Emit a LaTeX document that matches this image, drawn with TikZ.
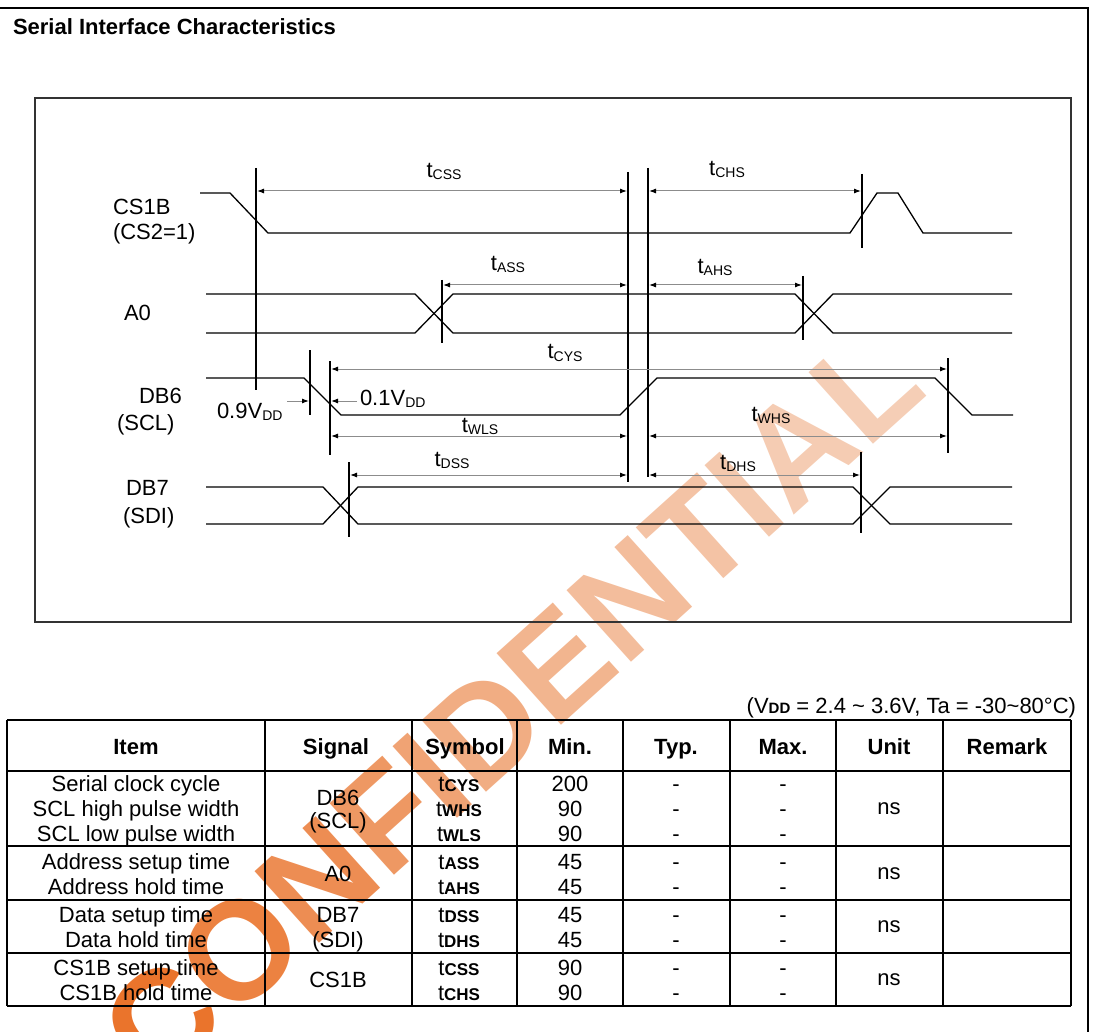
\documentclass[tikz,border=0pt]{standalone}
\usepackage{fontspec}
\setmainfont{Liberation Sans}
\usetikzlibrary{arrows.meta}
\newcommand\sz[1]{\fontsize{#1}{#1}\selectfont}
\newcommand\tlab[1]{t\raisebox{-2pt}{\sz{14}#1}}
\newcommand\vddsub{V\raisebox{-2pt}{\sz{14}DD}}
\newcommand\tsym[1]{t{\bfseries\sz{17}#1}}
\newcommand\cell[4]{\node[anchor=base] (#1) at (#2,#3) {#4};}
\definecolor{wmA}{RGB}{234,116,44}
\definecolor{wmB}{RGB}{245,206,182}
\begin{document}
\begin{tikzpicture}[x=1pt,y=-1pt,
  every node/.style={inner sep=0pt,outer sep=0pt,font=\sz{22}},
  sig/.style={line width=1.3pt,line join=miter},
  vline/.style={line width=1.6pt},
  dimline/.style={draw=black!45,line width=1pt},
  tip/.tip={Latex[length=7pt,width=5pt,color=black]},
  both/.style={dimline,{tip}-{tip}},
  toright/.style={dimline,-{tip}},
  tbl/.style={line width=1.8pt,line cap=square},
]
\useasboundingbox (0,0) rectangle (1095,1032);
% watermark
\foreach \ch/\e [count=\i from 0] in {C/0,O/0.722,N/1.5,F/2.222,I/2.833,D/3.111,E/3.833,N/4.5,T/5.222,I/5.833,A/6.111,L/6.833}{
  \pgfmathtruncatemacro\p{100*(1-\i/11)^1.6}
  \node[rotate=42,anchor=base west,font=\bfseries\sz{140},text=wmA!\p!wmB] (wm\i) at ({156+0.743*140*\e},{1090-0.669*140*\e}) {\ch};
}
% frame
\draw[line width=1.8pt] (0,8) -- (1088,8) -- (1088,1032);
\node[anchor=base west,font=\bfseries\sz{22}] (title) at (13,35) {Serial Interface Characteristics};
\draw[line width=2pt,draw=black!80] (35,98) rectangle (1071,622);
% labels
\node[anchor=base west] (cs1b) at (113,215) {CS1B};
\node[anchor=base west] (cs2) at (113,240) {(CS2=1)};
\node[anchor=base west] (a0) at (124,321) {A0};
\node[anchor=base west] (db6) at (139,403) {DB6};
\node[anchor=base west] (scl) at (117,430) {(SCL)};
\node[anchor=base west] (db7) at (126,495) {DB7};
\node[anchor=base west] (sdi) at (123,523) {(SDI)};
% signals
\draw[sig] (200,193) -- (230,193) -- (268,233) -- (850,233) -- (877,193) -- (898,193) -- (923,233) -- (1012,233);
\draw[sig] (206,294) -- (415,294) -- (453,333) -- (795,333) -- (833,294) -- (1012,294);
\draw[sig] (206,333) -- (415,333) -- (453,294) -- (795,294) -- (833,333) -- (1012,333);
\draw[sig] (206,378) -- (304,378) -- (341,415) -- (620,415) -- (657,378) -- (935,378) -- (972,415) -- (1013,415);
\draw[sig] (206,487) -- (323,487) -- (358,524) -- (853,524) -- (890,487) -- (1012,487);
\draw[sig] (206,524) -- (323,524) -- (358,487) -- (853,487) -- (890,524) -- (1012,524);
% vertical markers
\coordinate (v1t) at (256,168); \coordinate (v1b) at (256,390);
\coordinate (v2t) at (628,172); \coordinate (v2b) at (628,482);
\coordinate (v3t) at (648,168); \coordinate (v3b) at (648,477);
\coordinate (v4t) at (862,174); \coordinate (v4b) at (862,248);
\coordinate (v5t) at (442,280); \coordinate (v5b) at (442,343);
\coordinate (v6t) at (803,276); \coordinate (v6b) at (803,340);
\coordinate (v7t) at (310,350); \coordinate (v7b) at (310,415);
\coordinate (v8t) at (330,361); \coordinate (v8b) at (330,455);
\coordinate (v9t) at (948,358); \coordinate (v9b) at (948,453);
\coordinate (v10t) at (349,462); \coordinate (v10b) at (349,537);
\coordinate (v11t) at (861,452); \coordinate (v11b) at (861,533);
\foreach \v in {1,...,11} \draw[vline] (v\v t) -- (v\v b);
% dimension arrows
\draw[both] (257,191) -- (627,191);
\draw[both] (649,191) -- (861,191);
\draw[both] (443,285) -- (627,285);
\draw[both] (649,285) -- (802,285);
\draw[both] (331,369) -- (947,369);
\draw[toright] (287,401) -- (309,401);
\draw[toright] (357,401) -- (331,401);
\draw[both] (331,436) -- (627,436);
\draw[both] (649,436) -- (947,436);
\draw[both] (350,475) -- (627,475);
\draw[both] (649,475) -- (860,475);
% dimension labels
\node[anchor=base] (lcss) at (444,178) {\tlab{CSS}};
\node[anchor=base] (lchs) at (727,176) {\tlab{CHS}};
\node[anchor=base] (lass) at (508,271) {\tlab{ASS}};
\node[anchor=base] (lahs) at (715,274) {\tlab{AHS}};
\node[anchor=base] (lcys) at (565,359) {\tlab{CYS}};
\node[anchor=base] (lwls) at (480,432) {\tlab{WLS}};
\node[anchor=base] (lwhs) at (771,421) {\tlab{WHS}};
\node[anchor=base] (ldss) at (452,466) {\tlab{DSS}};
\node[anchor=base] (ldhs) at (738,469) {\tlab{DHS}};
\node[anchor=base west] (l09) at (217,418) {0.9\vddsub};
\node[anchor=base west] (l01) at (360,405) {0.1\vddsub};
% table
\node[anchor=base east] (note) at (1076,713) {(V{\bfseries\sz{15}DD} = 2.4 \textasciitilde{} 3.6V, Ta = -30\textasciitilde80°C)};
\foreach \y in {720,771,846,900,953,1006} \draw[tbl] (7,\y) -- (1071,\y);
\foreach \x in {7,265,412,517,623,730,836,943,1071} \draw[tbl] (\x,720) -- (\x,1006);
\foreach \t/\x [count=\i] in {Item/136,Signal/336,Symbol/465,Min./570,Typ./676,Max./783,Unit/889,Remark/1007}
  \node[anchor=base,font=\bfseries\sz{22}] (h\i) at (\x,754) {\t};
% group 1
\cell{i1}{136}{791}{Serial clock cycle}
\cell{i2}{136}{816}{SCL high pulse width}
\cell{i3}{136}{841}{SCL low pulse width}
\cell{s1a}{338}{805}{DB6}
\cell{s1b}{338}{828}{(SCL)}
\cell{y1}{459}{791}{\tsym{CYS}}
\cell{y2}{459}{816}{\tsym{WHS}}
\cell{y3}{459}{841}{\tsym{WLS}}
\cell{m1}{570}{791}{200}
\cell{m2}{570}{816}{90}
\cell{m3}{570}{841}{90}
\cell{u1}{889}{814}{ns}
% group 2
\cell{i4}{136}{869}{Address setup time}
\cell{i5}{136}{894}{Address hold time}
\cell{s2}{338}{881}{A0}
\cell{y4}{459}{869}{\tsym{ASS}}
\cell{y5}{459}{894}{\tsym{AHS}}
\cell{m4}{570}{869}{45}
\cell{m5}{570}{894}{45}
\cell{u2}{889}{879}{ns}
% group 3
\cell{i6}{136}{922}{Data setup time}
\cell{i7}{136}{947}{Data hold time}
\cell{s3a}{338}{922}{DB7}
\cell{s3b}{338}{947}{(SDI)}
\cell{y6}{459}{922}{\tsym{DSS}}
\cell{y7}{459}{947}{\tsym{DHS}}
\cell{m6}{570}{922}{45}
\cell{m7}{570}{947}{45}
\cell{u3}{889}{932}{ns}
% group 4
\cell{i8}{136}{975}{CS1B setup time}
\cell{i9}{136}{1000}{CS1B hold time}
\cell{s4}{338}{987}{CS1B}
\cell{y8}{459}{975}{\tsym{CSS}}
\cell{y9}{459}{1000}{\tsym{CHS}}
\cell{m8}{570}{975}{90}
\cell{m9}{570}{1000}{90}
\cell{u4}{889}{985}{ns}
% dashes
\foreach \y [count=\i] in {791,816,841,869,894,922,947,975,1000}{
  \node[anchor=base] (ty\i) at (676,\y) {-};
  \node[anchor=base] (mx\i) at (783,\y) {-};
}
\end{tikzpicture}
\end{document}
